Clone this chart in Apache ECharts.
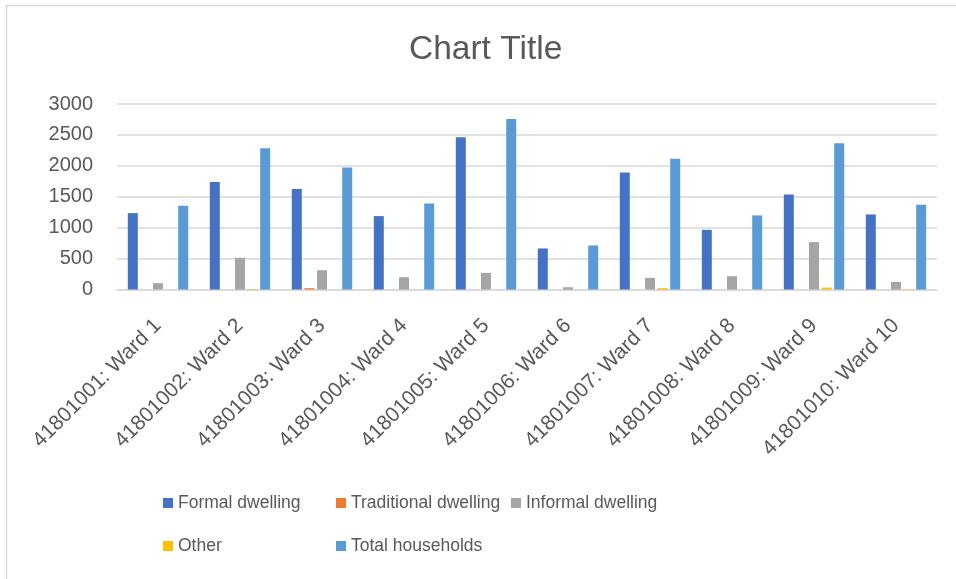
<!DOCTYPE html>
<html>
<head>
<meta charset="utf-8">
<script src="https://cdn.jsdelivr.net/npm/echarts@6/dist/echarts.min.js"></script>
<style>
  html, body { margin: 0; padding: 0; background: #fff; }
  #chart { width: 956px; height: 579px; }
</style>
</head>
<body>
<div id="chart"></div>
<script>
// Dwelling types per ward
const categories = [
  '41801001: Ward 1', '41801002: Ward 2', '41801003: Ward 3', '41801004: Ward 4',
  '41801005: Ward 5', '41801006: Ward 6', '41801007: Ward 7', '41801008: Ward 8',
  '41801009: Ward 9', '41801010: Ward 10'
];
const formalDwelling      = [1235, 1737, 1624, 1187, 2461, 664, 1894, 965, 1538, 1214];
const traditionalDwelling = [0, 0, 22, 0, 0, 0, 0, 0, 0, 0];
const informalDwelling    = [102, 512, 312, 199, 269, 37, 188, 215, 766, 123];
const otherDwelling       = [0, 8, 0, 0, 0, 0, 22, 0, 30, 6];
const totalHouseholds     = [1354, 2283, 1975, 1392, 2757, 712, 2114, 1198, 2364, 1370];
const yTicks = [0, 500, 1000, 1500, 2000, 2500, 3000];

const seriesNames = ['Formal dwelling', 'Traditional dwelling', 'Informal dwelling', 'Other', 'Total households'];
const seriesData = [formalDwelling, traditionalDwelling, informalDwelling, otherDwelling, totalHouseholds];
const colors = ['#4472C4', '#ED7D31', '#A5A5A5', '#FFC000', '#5B9BD5'];

const FONT = '"Liberation Sans", Arial, sans-serif';
const TEXT = '#595959';

// one legend block per entry, laid out in two rows of fixed-width columns
const legendPos = [
  { left: 163, top: 494 }, { left: 336, top: 494 }, { left: 511, top: 494 },
  { left: 163, top: 537 }, { left: 336, top: 537 }
];
const legends = seriesNames.map((n, i) => ({
  data: [n],
  left: legendPos[i].left,
  top: legendPos[i].top,
  padding: 0,
  icon: 'rect',
  itemWidth: 10,
  itemHeight: 10,
  itemGap: 0,
  selectedMode: false,
  textStyle: { color: TEXT, fontFamily: FONT, fontSize: 17.5, padding: [0, 0, 0, 0] }
}));

const chart = echarts.init(document.getElementById('chart'), null, { renderer: 'canvas' });
chart.setOption({
  animation: false,
  color: colors,
  title: {
    text: 'Chart Title',
    left: 409,
    top: 33,
    padding: 0,
    textStyle: { color: TEXT, fontFamily: FONT, fontSize: 33.5, fontWeight: 'normal' }
  },
  graphic: [{
    type: 'rect',
    shape: { x: 6.5, y: 5.5, width: 1200, height: 1200 },
    style: { fill: 'none', stroke: '#d9d9d9', lineWidth: 1.5 },
    silent: true
  }],
  legend: legends,
  grid: { left: 117, right: 19, top: 104, bottom: 289.5, containLabel: false },
  xAxis: {
    type: 'category',
    data: categories,
    axisLine: { show: true, lineStyle: { color: '#d9d9d9', width: 1.5 } },
    axisTick: { show: false },
    axisLabel: {
      rotate: 45,
      interval: 0,
      margin: 33,
      color: TEXT,
      fontFamily: FONT,
      fontSize: 21
    }
  },
  yAxis: {
    type: 'value',
    min: yTicks[0],
    max: yTicks[yTicks.length - 1],
    interval: yTicks[1] - yTicks[0],
    axisLine: { show: false },
    axisTick: { show: false },
    splitLine: { lineStyle: { color: '#d9d9d9', width: 1.5 } },
    axisLabel: {
      color: TEXT, fontFamily: FONT, fontSize: 20, margin: 24,
      formatter: v => String(v)
    }
  },
  series: seriesNames.map((n, i) => ({
    name: n,
    type: 'bar',
    data: seriesData[i],
    barWidth: 10,
    barGap: '26%'
  }))
});
</script>
</body>
</html>
